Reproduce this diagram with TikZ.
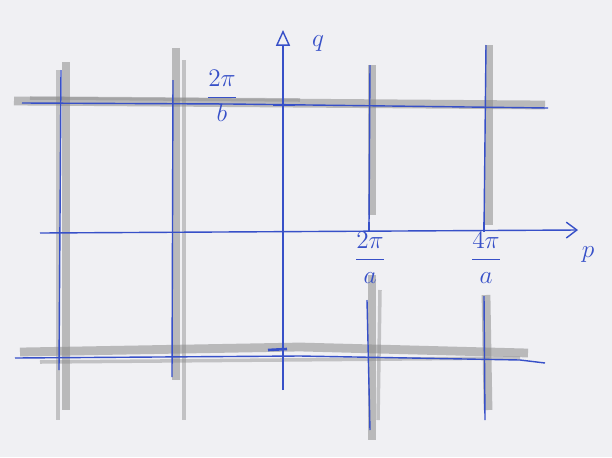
\documentclass[tikz,border=0pt]{standalone}
\usepackage{amsmath}
\usetikzlibrary{arrows.meta}
\definecolor{pen}{RGB}{55,80,200}
\definecolor{pencil}{RGB}{140,140,140}
\definecolor{paper}{RGB}{240,240,243}
\tikzset{
  band/.style={pencil,line width=5pt,opacity=0.55},
  bandthin/.style={pencil,line width=2pt,opacity=0.45},
  penline/.style={pen,line width=0.8pt},
  lbl/.style={pen,font=\Large}
}
\begin{document}
\begin{tikzpicture}[x=0.02cm,y=-0.02cm]
  % paper
  \fill[paper] (0,0) rectangle (612,457);
  % pencil bands (reciprocal lattice lines)
  \draw[band] (14,101)--(545,105);
  \draw[bandthin] (30,98)--(300,100);
  \draw[band] (20,352)--(300,347)--(528,353);
  \draw[bandthin] (40,362)--(520,358);
  \draw[band] (66,62)--(66,410);
  \draw[bandthin] (58,70)--(58,420);
  \draw[band] (176,48)--(176,380);
  \draw[bandthin] (184,60)--(184,420);
  \draw[band] (372,65)--(372,215);
  \draw[band] (372,275)--(372,440);
  \draw[bandthin] (380,290)--(378,420);
  \draw[band] (489,45)--(489,225);
  \draw[band] (486,295)--(488,410);
  % blue lines
  \draw[penline] (22,103)--(230,104)--(548,108);
  \draw[penline] (15,358)--(300,356)--(520,360)--(545,363);
  \draw[penline] (61,70)--(59,370);
  \draw[penline] (173,80)--(172,377);
  \draw[penline] (370,65)--(369,226);
  \draw[penline] (367,300)--(370,430);
  \draw[penline] (486,45)--(484,230);
  \draw[penline] (484,296)--(485,420);
  % axes
  \coordinate (pstart) at (40,233);
  \coordinate (pend) at (578,230);
  \coordinate (qstart) at (283,390);
  \coordinate (qend) at (283,30);
  \draw[penline,-{Straight Barb[length=6pt,width=9pt]}] (pstart)--(pend);
  \draw[penline,-{Triangle[open,length=9pt,width=8pt]}] (qstart)--(qend);
  % ticks
  \draw[pen,line width=1.5pt] (273,105)--(295,105);
  \draw[pen,line width=1.5pt] (268,350)--(287,349);
  \draw[pen,line width=1.2pt] (369,222)--(369,232);
  \draw[pen,line width=1.2pt] (484,222)--(484,232);
  % labels
  \node[lbl] (qlbl) at (318,44) {$q$};
  \node[lbl] (plbl) at (588,255) {$p$};
  \node[lbl] (bone) at (222,96) {$\dfrac{2\pi}{b}$};
  \node[lbl] (aone) at (370,258) {$\dfrac{2\pi}{a}$};
  \node[lbl] (atwo) at (486,258) {$\dfrac{4\pi}{a}$};
\end{tikzpicture}
\end{document}
